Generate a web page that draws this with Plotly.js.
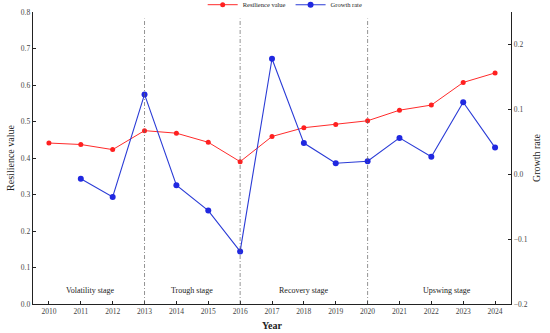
<!DOCTYPE html>
<html>
<head>
<meta charset="utf-8">
<script src="https://cdn.plot.ly/plotly-3.0.1.min.js"></script>
<style>html,body{margin:0;padding:0;background:#fff}#chart{width:550px;height:333px}</style>
</head>
<body>
<div id="chart"></div>
<script>
const years = [2010,2011,2012,2013,2014,2015,2016,2017,2018,2019,2020,2021,2022,2023,2024];
const resilience = [0.441,0.437,0.423,0.475,0.468,0.443,0.390,0.459,0.483,0.492,0.502,0.531,0.545,0.607,0.633];
const growthYears = [2011,2012,2013,2014,2015,2016,2017,2018,2019,2020,2021,2022,2023,2024];
const growth = [-0.007,-0.035,0.123,-0.017,-0.056,-0.119,0.178,0.048,0.017,0.020,0.056,0.027,0.111,0.041];
const stageBoundaries = [2013,2016,2020];
const stageNames = ["Volatility stage","Trough stage","Recovery stage","Upswing stage"];
const stageCenters = [2011.3,2014.5,2018,2022.5];
const xTicks = years;

const FONT = "Liberation Serif, Times New Roman, serif";

const traces = [
  {x: years, y: resilience, name: "Resilience value", type: "scatter", mode: "lines+markers",
   line: {color: "#ff2b2b", width: 1}, marker: {color: "#ff2020", size: 5}, yaxis: "y"},
  {x: growthYears, y: growth, name: "Growth rate", type: "scatter", mode: "lines+markers",
   line: {color: "#2a3bd6", width: 1.1}, marker: {color: "#2028e0", size: 6}, yaxis: "y2"}
];

const shapes = stageBoundaries.map(b => ({
  type: "line", xref: "x", yref: "y", x0: b, x1: b, y0: 0, y1: 0.782,
  line: {color: "#666", width: 0.7, dash: "4px,2px,1px,2px"}
}));

const annotations = stageNames.map((n, i) => ({
  text: n, x: stageCenters[i], y: 0.037, xref: "x", yref: "y",
  showarrow: false, font: {family: FONT, size: 8, color: "#222"}
}));

const layout = {
  width: 550, height: 333,
  margin: {l: 33, r: 39, t: 12, b: 29, autoexpand: false},
  paper_bgcolor: "#fff", plot_bgcolor: "#fff",
  font: {family: FONT, color: "#222"},
  showlegend: true,
  legend: {orientation: "h", x: 0.355, y: 1.025, xanchor: "left", yanchor: "middle",
           font: {family: FONT, size: 6.5, color: "#222"}, bgcolor: "rgba(0,0,0,0)",
           itemwidth: 30, tracegroupgap: 0},
  xaxis: {range: [2009.5, 2024.5], tickvals: xTicks, ticks: "inside", ticklen: 3, tickwidth: 1,
          tickcolor: "#222", showline: true, linecolor: "#222", linewidth: 1.3, showgrid: false,
          zeroline: false, tickfont: {family: FONT, size: 7.5, color: "#444"}, automargin: false,
          title: {text: "<b>Year</b>", font: {family: FONT, size: 10, color: "#222"}, standoff: 6}},
  yaxis: {range: [0, 0.8], dtick: 0.1, tickformat: ".1f", ticks: "inside", ticklen: 3,
          tickcolor: "#222", showline: true, linecolor: "#222", linewidth: 1.3, showgrid: false,
          zeroline: false, tickfont: {family: FONT, size: 7.5, color: "#444"}, automargin: false,
          title: {text: "Resilience value", font: {family: FONT, size: 10, color: "#222"}, standoff: 4}},
  yaxis2: {range: [-0.2, 0.25], dtick: 0.1, tickformat: ".1f", overlaying: "y", side: "right",
           ticks: "inside", ticklen: 3, tickcolor: "#222", showline: true, linecolor: "#222",
           linewidth: 1.3, showgrid: false, zeroline: false, automargin: false,
           tickfont: {family: FONT, size: 7.5, color: "#444"},
           title: {text: "Growth rate", font: {family: FONT, size: 10, color: "#222"}, standoff: 6}},
  shapes: shapes,
  annotations: annotations
};

Plotly.newPlot("chart", traces, layout, {displayModeBar: false, staticPlot: true});
</script>
</body>
</html>
